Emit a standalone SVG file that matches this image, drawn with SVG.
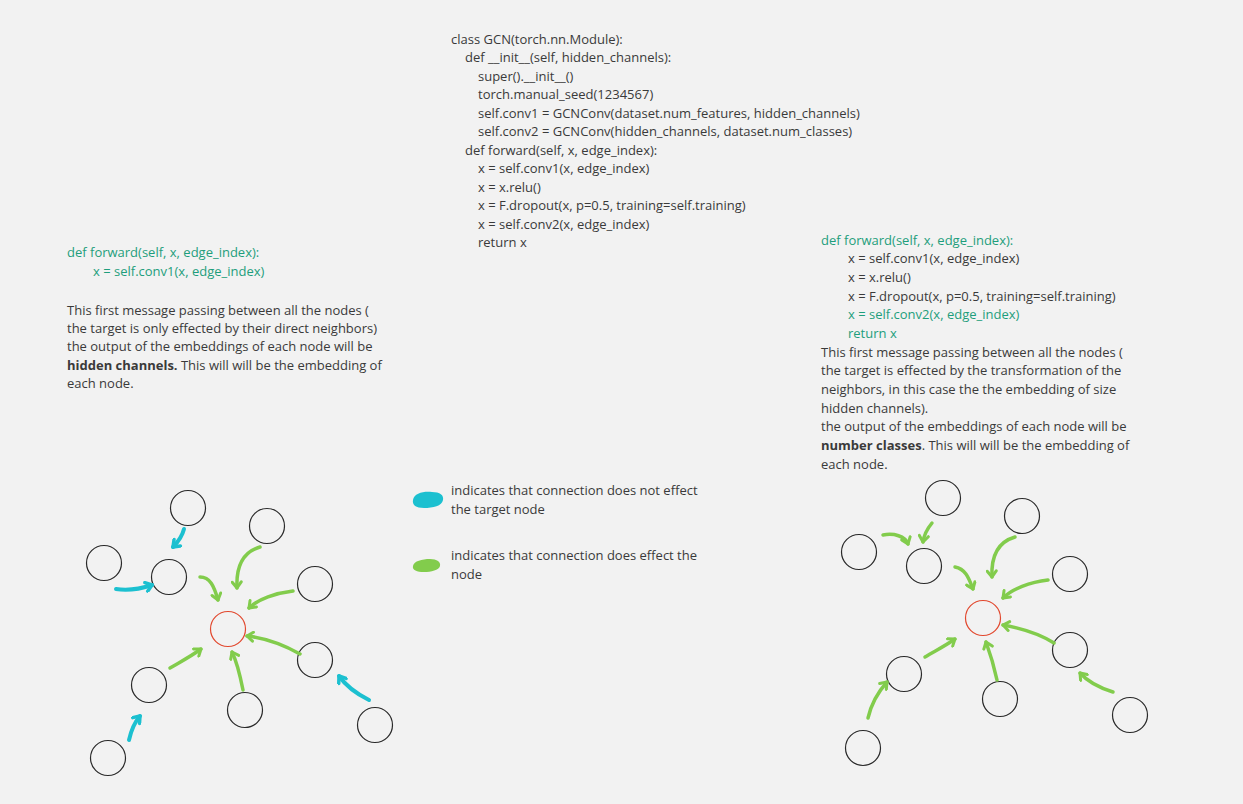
<svg xmlns="http://www.w3.org/2000/svg" width="1243" height="804" viewBox="0 0 1243 804">
<style>
text{font-family:"Open Sans","DejaVu Sans",sans-serif;font-size:13px;fill:#3a3a3a}
.g{fill:#1e9e7c}
.b{font-weight:bold}
.node circle{fill:none;stroke:#2a2a2a;stroke-width:1.2}
.node circle.t{stroke:#e2492f}
.cy{fill:none;stroke:#1cc0d0;stroke-width:4;stroke-linecap:round;stroke-linejoin:round;marker-end:url(#hc)}
.gr{fill:none;stroke:#82cc4c;stroke-width:3.5;stroke-linecap:round;stroke-linejoin:round;marker-end:url(#hg)}
</style>
<defs>
<marker id="hc" viewBox="0 0 12 12" refX="9" refY="6" markerWidth="12" markerHeight="12" markerUnits="userSpaceOnUse" orient="auto">
<path d="M3,1.5 L9,6 L3,10.5" fill="none" stroke="#1cc0d0" stroke-width="3.5" stroke-linecap="round" stroke-linejoin="round"/>
</marker>
<marker id="hg" viewBox="0 0 12 12" refX="9" refY="6" markerWidth="12" markerHeight="12" markerUnits="userSpaceOnUse" orient="auto">
<path d="M3,1.5 L9,6 L3,10.5" fill="none" stroke="#82cc4c" stroke-width="3" stroke-linecap="round" stroke-linejoin="round"/>
</marker>
</defs>
<rect width="1243" height="804" fill="#f2f2f2"/>

<g id="code">
<text x="451" y="44">class GCN(torch.nn.Module):</text>
<text x="465" y="62">def __init__(self, hidden_channels):</text>
<text x="478" y="81">super().__init__()</text>
<text x="478" y="99">torch.manual_seed(1234567)</text>
<text x="478" y="118">self.conv1 = GCNConv(dataset.num_features, hidden_channels)</text>
<text x="478" y="136">self.conv2 = GCNConv(hidden_channels, dataset.num_classes)</text>
<text x="465" y="155">def forward(self, x, edge_index):</text>
<text x="478" y="173">x = self.conv1(x, edge_index)</text>
<text x="478" y="192">x = x.relu()</text>
<text x="478" y="210">x = F.dropout(x, p=0.5, training=self.training)</text>
<text x="478" y="229">x = self.conv2(x, edge_index)</text>
<text x="478" y="247">return x</text>
</g>

<g id="left-text">
<text x="67" y="257" class="g">def forward(self, x, edge_index):</text>
<text x="93" y="276" class="g">x = self.conv1(x, edge_index)</text>
<text x="67" y="315">This first message passing between all the nodes (</text>
<text x="67" y="333">the target is only effected by their direct neighbors)</text>
<text x="67" y="351">the output of the embeddings of each node will be</text>
<text x="67" y="370"><tspan class="b">hidden channels.</tspan> This will will be the embedding of</text>
<text x="67" y="388">each node.</text>
</g>

<g id="right-text">
<text x="821" y="245" class="g">def forward(self, x, edge_index):</text>
<text x="848" y="263">x = self.conv1(x, edge_index)</text>
<text x="848" y="282">x = x.relu()</text>
<text x="848" y="301">x = F.dropout(x, p=0.5, training=self.training)</text>
<text x="848" y="319" class="g">x = self.conv2(x, edge_index)</text>
<text x="848" y="338" class="g">return x</text>
<text x="821" y="357">This first message passing between all the nodes (</text>
<text x="821" y="375">the target is effected by the transformation of the</text>
<text x="821" y="394">neighbors, in this case the the embedding of size</text>
<text x="821" y="413">hidden channels).</text>
<text x="821" y="431">the output of the embeddings of each node will be</text>
<text x="821" y="450"><tspan class="b">number classes</tspan>. This will will be the embedding of</text>
<text x="821" y="469">each node.</text>
</g>

<g id="legend">
<path d="M413,500 C414,493 424,491 432,492 C440,492 444,495 443,500 C442,506 433,508 424,508 C416,508 412,505 413,500 Z" fill="#1cc0d0"/>
<path d="M413,566 C414,561 422,559 430,559 C437,559 441,562 440,566 C439,570 431,572 424,572 C417,572 412,570 413,566 Z" fill="#82cc4c"/>
<text x="451" y="495">indicates that connection does not effect</text>
<text x="451" y="514">the target node</text>
<text x="451" y="560">indicates that connection does effect the</text>
<text x="451" y="579">node</text>
</g>

<g id="left-nodes">
<g id="L1" class="node"><circle cx="188" cy="508" r="17.5"/></g>
<g id="L2" class="node"><circle cx="267" cy="526" r="17.5"/></g>
<g id="L3" class="node"><circle cx="104" cy="563" r="17.5"/></g>
<g id="L4" class="node"><circle cx="169" cy="577" r="17.5"/></g>
<g id="L5" class="node"><circle cx="315" cy="584" r="17.5"/></g>
<g id="L0" class="node"><circle class="t" cx="228" cy="629" r="17.5"/></g>
<g id="L6" class="node"><circle cx="315" cy="660" r="17.5"/></g>
<g id="L7" class="node"><circle cx="149" cy="685" r="17.5"/></g>
<g id="L8" class="node"><circle cx="245" cy="710" r="17.5"/></g>
<g id="L9" class="node"><circle cx="375" cy="725" r="17.5"/></g>
<g id="L10" class="node"><circle cx="108" cy="758" r="17.5"/></g>
</g>

<g id="right-nodes">
<g id="R1" class="node"><circle cx="943" cy="498" r="17.5"/></g>
<g id="R2" class="node"><circle cx="1022" cy="516" r="17.5"/></g>
<g id="R3" class="node"><circle cx="859" cy="552" r="17.5"/></g>
<g id="R4" class="node"><circle cx="924" cy="566" r="17.5"/></g>
<g id="R5" class="node"><circle cx="1070" cy="574" r="17.5"/></g>
<g id="R0" class="node"><circle class="t" cx="983" cy="618" r="17.5"/></g>
<g id="R6" class="node"><circle cx="1070" cy="650" r="17.5"/></g>
<g id="R7" class="node"><circle cx="904" cy="674" r="17.5"/></g>
<g id="R8" class="node"><circle cx="1000" cy="699" r="17.5"/></g>
<g id="R9" class="node"><circle cx="1130" cy="715" r="17.5"/></g>
<g id="R10" class="node"><circle cx="863" cy="748" r="17.5"/></g>
</g>

<g id="connectors">
<path class="cy" d="M184,529 C182,537 178,542 173,547"/>
<path class="cy" d="M116,589 C128,591 140,589 152,585"/>
<path class="cy" d="M129,740 C131,731 134,723 140,716"/>
<path class="cy" d="M369,700 C357,694 346,686 339,676"/>
<path class="gr" d="M200,577 C210,577 214,586 218,600"/>
<path class="gr" d="M260,547 C243,552 236,567 237,588"/>
<path class="gr" d="M293,591 C276,593 258,599 249,608"/>
<path class="gr" d="M300,654 C284,645 265,638 247,636"/>
<path class="gr" d="M243,690 C240,675 237,662 232,652"/>
<path class="gr" d="M170,668 C180,662 190,657 201,649"/>

<path class="gr" d="M883,535 C894,533 905,536 908,544"/>
<path class="gr" d="M932,523 C927,529 924,535 923,542"/>
<path class="gr" d="M955,567 C966,569 969,579 973,589"/>
<path class="gr" d="M1015,537 C998,542 991,556 992,577"/>
<path class="gr" d="M1048,580 C1030,582 1012,589 1003,598"/>
<path class="gr" d="M1054,643 C1040,634 1020,628 1003,625"/>
<path class="gr" d="M997,680 C994,666 990,653 986,642"/>
<path class="gr" d="M925,657 C935,651 945,646 955,639"/>
<path class="gr" d="M868,718 C871,705 878,692 887,682"/>
<path class="gr" d="M1113,692 C1100,688 1088,682 1080,673"/>
</g>
</svg>
